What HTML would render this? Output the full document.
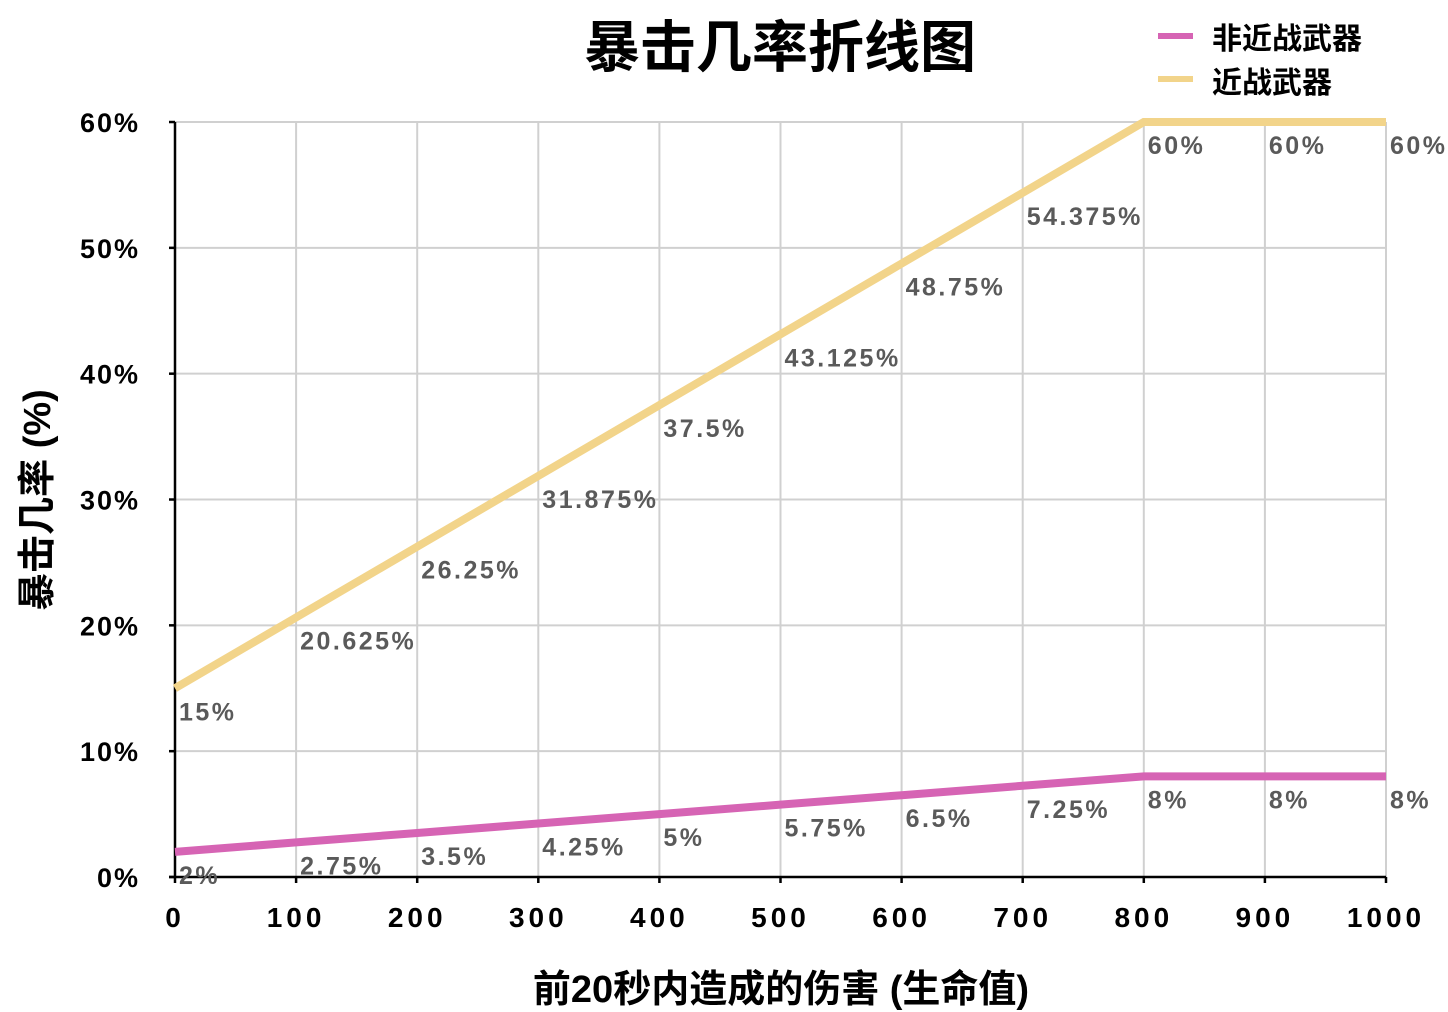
<!DOCTYPE html>
<html><head><meta charset="utf-8"><style>
html,body{margin:0;padding:0;background:#fff;}
svg{display:block;font-family:"Liberation Sans","Noto Sans CJK SC",sans-serif;font-weight:bold;}
</style></head><body>
<svg id="c" width="1448" height="1012" xmlns="http://www.w3.org/2000/svg">
<text x="780" y="67" font-size="56" text-anchor="middle" fill="#000">暴击几率折线图</text>
<line x1="1158" y1="36" x2="1193" y2="36" stroke="#d664b4" stroke-width="6"/>
<text x="1212" y="49" font-size="30" fill="#000">非近战武器</text>
<line x1="1158" y1="79" x2="1193" y2="79" stroke="#f2d48a" stroke-width="6"/>
<text x="1212" y="93" font-size="30" fill="#000">近战武器</text>
<text transform="translate(50,500) rotate(-90)" font-size="38" text-anchor="middle" fill="#000">暴击几率 (%)</text>
<text x="781" y="1002" font-size="38" text-anchor="middle" fill="#000">前20秒内造成的伤害 (生命值)</text>
<g id="g"></g>
</svg>
<script>
var g=document.getElementById('g'),s='';
function X(v){return 175+v*1.211;}function Y(p){return 877-p*12.583;}
for(var i=0;i<=10;i++){var x=X(i*100);
 if(i>0)s+='<line x1="'+x+'" y1="122" x2="'+x+'" y2="877" stroke="#d0d0d0" stroke-width="2"/>';
 s+='<line x1="'+x+'" y1="877" x2="'+x+'" y2="883" stroke="#000" stroke-width="2.5"/>';
 s+='<text x="'+x+'" y="927" font-size="28" letter-spacing="4" text-anchor="middle" fill="#000">'+(i*100)+'</text>';}
for(var j=0;j<=6;j++){var y=Y(j*10);
 if(j>0)s+='<line x1="175" y1="'+y+'" x2="1386" y2="'+y+'" stroke="#d0d0d0" stroke-width="2"/>';
 s+='<line x1="169" y1="'+y+'" x2="175" y2="'+y+'" stroke="#000" stroke-width="2.5"/>';
 s+='<text x="140" y="'+(y+10)+'" font-size="27" letter-spacing="2" text-anchor="end" fill="#000">'+(j*10)+'%</text>';}
s+='<line x1="175" y1="122" x2="175" y2="877" stroke="#000" stroke-width="2.5"/>';
s+='<line x1="169" y1="877" x2="1386" y2="877" stroke="#000" stroke-width="2.5"/>';
var a=[],b=[];for(var i=0;i<=10;i++){var v=i*100;a.push(Math.min(15+v*0.05625,60));b.push(Math.min(2+v*0.0075,8));}
function P(arr,c){var p='';arr.forEach(function(v,i){p+=(i?'L':'M')+X(i*100)+' '+Y(v);});
 s+='<path d="'+p+'" fill="none" stroke="'+c+'" stroke-width="8"/>';
 arr.forEach(function(v,i){s+='<text x="'+(X(i*100)+4)+'" y="'+(Y(v)+32)+'" font-size="25" letter-spacing="2.5" fill="#5a5a5a">'+(+v.toFixed(3))+'%</text>';});}
P(a,'#f2d48a');P(b,'#d664b4');
g.innerHTML=s;
</script>
</body></html>
